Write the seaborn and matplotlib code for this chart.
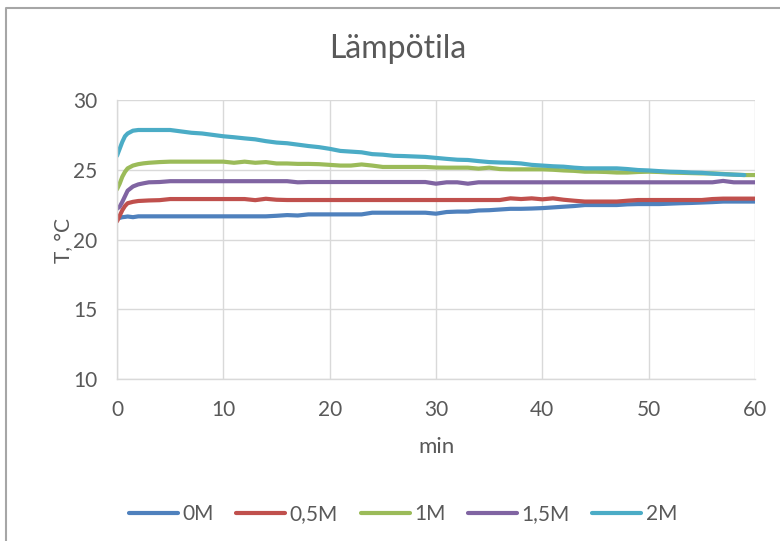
import numpy as np
import pandas as pd
import matplotlib
matplotlib.use("Agg")
import matplotlib.pyplot as plt
from matplotlib.lines import Line2D
import seaborn as sns

# Measurement times (min)
minutes = [0, 0.25, 0.5, 0.75, 1, 1.5, 2, 2.5, 3, 4, 5, 6, 7, 8, 9, 10,
           11, 12, 13, 14, 15, 16, 17, 18, 19, 20, 21, 22, 23, 24, 25,
           26, 27, 28, 29, 30, 31, 32, 33, 34, 35, 36, 37, 38, 39, 40,
           41, 42, 43, 44, 45, 46, 47, 48, 49, 50, 51, 52, 53, 54, 55,
           56, 57, 58, 59, 60]

series_names = ["0M", "0,5M", "1M", "1,5M", "2M"]

temp_0M = [21.45, 21.55, 21.60, 21.62, 21.65, 21.60, 21.66, 21.66, 21.66, 21.66, 21.66, 21.66, 21.66, 21.66, 21.66, 21.66,
           21.66, 21.66, 21.66, 21.66, 21.70, 21.75, 21.72, 21.80, 21.80, 21.80, 21.80, 21.80, 21.80, 21.92, 21.92,
           21.92, 21.92, 21.92, 21.92, 21.85, 21.97, 22.00, 22.00, 22.08, 22.10, 22.15, 22.20, 22.20, 22.22, 22.25,
           22.30, 22.35, 22.40, 22.47, 22.47, 22.47, 22.47, 22.52, 22.54, 22.54, 22.54, 22.57, 22.60, 22.62, 22.65,
           22.68, 22.72, 22.72, 22.72, 22.72]

temp_05M = [21.30, 21.70, 22.10, 22.40, 22.60, 22.70, 22.76, 22.78, 22.80, 22.82, 22.90, 22.90, 22.90, 22.90, 22.90, 22.90,
            22.90, 22.90, 22.82, 22.92, 22.85, 22.83, 22.83, 22.83, 22.83, 22.83, 22.83, 22.83, 22.83, 22.83, 22.83,
            22.83, 22.83, 22.83, 22.83, 22.83, 22.83, 22.83, 22.83, 22.83, 22.83, 22.83, 22.95, 22.90, 22.95, 22.88,
            22.95, 22.85, 22.78, 22.72, 22.72, 22.72, 22.72, 22.78, 22.83, 22.83, 22.83, 22.83, 22.83, 22.83, 22.83,
            22.90, 22.93, 22.93, 22.93, 22.93]

temp_1M = [23.60, 24.00, 24.50, 24.85, 25.10, 25.30, 25.40, 25.46, 25.50, 25.55, 25.58, 25.58, 25.58, 25.58, 25.58, 25.58,
           25.50, 25.58, 25.50, 25.55, 25.45, 25.45, 25.42, 25.42, 25.40, 25.35, 25.30, 25.30, 25.38, 25.30, 25.20,
           25.20, 25.20, 25.20, 25.20, 25.16, 25.15, 25.15, 25.15, 25.08, 25.15, 25.05, 25.03, 25.03, 25.03, 25.03,
           25.00, 24.95, 24.92, 24.86, 24.86, 24.84, 24.80, 24.80, 24.84, 24.86, 24.84, 24.80, 24.78, 24.76, 24.74,
           24.74, 24.70, 24.65, 24.62, 24.62]

temp_15M = [22.20, 22.35, 22.70, 23.10, 23.50, 23.80, 23.95, 24.03, 24.10, 24.12, 24.18, 24.18, 24.18, 24.18, 24.18, 24.18,
            24.18, 24.18, 24.18, 24.18, 24.18, 24.18, 24.10, 24.12, 24.12, 24.12, 24.12, 24.12, 24.12, 24.12, 24.12,
            24.12, 24.12, 24.12, 24.12, 24.00, 24.10, 24.10, 24.00, 24.10, 24.10, 24.10, 24.10, 24.10, 24.10, 24.10,
            24.10, 24.10, 24.10, 24.10, 24.10, 24.10, 24.10, 24.10, 24.10, 24.10, 24.10, 24.10, 24.10, 24.10, 24.10,
            24.10, 24.20, 24.10, 24.10, 24.10]

temp_2M = [26.00, 26.50, 27.00, 27.40, 27.60, 27.80, 27.85, 27.85, 27.85, 27.85, 27.85, 27.75, 27.65, 27.60, 27.50, 27.40,
           27.33, 27.25, 27.18, 27.05, 26.95, 26.90, 26.80, 26.70, 26.62, 26.50, 26.35, 26.30, 26.25, 26.12, 26.08,
           26.00, 25.98, 25.95, 25.92, 25.85, 25.78, 25.72, 25.70, 25.62, 25.55, 25.52, 25.50, 25.45, 25.35, 25.30,
           25.25, 25.22, 25.15, 25.10, 25.10, 25.10, 25.10, 25.05, 24.98, 24.95, 24.90, 24.86, 24.84, 24.80, 24.78,
           24.72, 24.68, 24.65, 24.62, np.nan]

colors = ["#4F81BD", "#C0504D", "#9BBB59", "#8064A2", "#4BACC6"]

frames = []
for name, vals in zip(series_names, [temp_0M, temp_05M, temp_1M, temp_15M, temp_2M]):
    frames.append(pd.DataFrame({"min": minutes, "T": vals, "sarja": name}))
df = pd.concat(frames, ignore_index=True)

sns.set_theme(style="white")
plt.rcParams["font.family"] = ["Lato", "DejaVu Sans"]
text_color = "#595959"
grid_color = "#D9D9D9"

W, H = 780, 541
fig = plt.figure(figsize=(W / 100, H / 100), dpi=100)
ax = fig.add_axes([117 / W, 1 - 379 / H, (755 - 117) / W, (379 - 100) / H])

sns.lineplot(data=df, x="min", y="T", hue="sarja", hue_order=series_names,
             palette=colors, estimator=None, sort=False, linewidth=3.0,
             ax=ax, legend=False)
for ln in ax.get_lines():
    ln.set_solid_capstyle("round")
    ln.set_solid_joinstyle("round")

ax.set_xlim(0, 60)
ax.set_ylim(10, 30)
ax.set_xticks(range(0, 61, 10))
ax.set_yticks(range(10, 31, 5))
ax.grid(True, color=grid_color, linewidth=1.0)
ax.set_axisbelow(True)
for side in ["top", "right"]:
    ax.spines[side].set_visible(False)
for side in ["left", "bottom"]:
    ax.spines[side].set_color(grid_color)
    ax.spines[side].set_linewidth(1.0)
ax.tick_params(axis="x", length=0, labelsize=15, colors=text_color, pad=15)
ax.tick_params(axis="y", length=0, labelsize=15, colors=text_color, pad=14)
ax.set_xlabel("")
ax.set_ylabel("")

# axis titles and chart title placed on the chart area
fig.text(436 / W, 1 - 447 / H, "min", fontsize=16, color=text_color, ha="center", va="center")
fig.text(64 / W, 1 - 240 / H, "T, °C", fontsize=15, color=text_color, ha="center", va="center",
         rotation=90)
fig.text(398 / W, 1 - 58 / H, "Lämpötila", fontsize=23, color=text_color, ha="center", va="baseline")

handles = [Line2D([0], [0], color=c, linewidth=3.0, solid_capstyle="round") for c in colors]
fig.legend(handles, series_names, loc="center", bbox_to_anchor=(403 / W, 1 - 514 / H),
           ncol=5, frameon=False, fontsize=15, handlelength=2.35, handletextpad=0.2,
           columnspacing=1.1, labelcolor=text_color, borderpad=0.0)

# chart area border (left and top edges)
fig.add_artist(Line2D([6 / W, 6 / W, 1.0], [0.0, 1 - 8 / H, 1 - 8 / H],
                      transform=fig.transFigure, color="#A6A6A6", linewidth=1.5))

fig.savefig("out.png", dpi=100, facecolor="white")
